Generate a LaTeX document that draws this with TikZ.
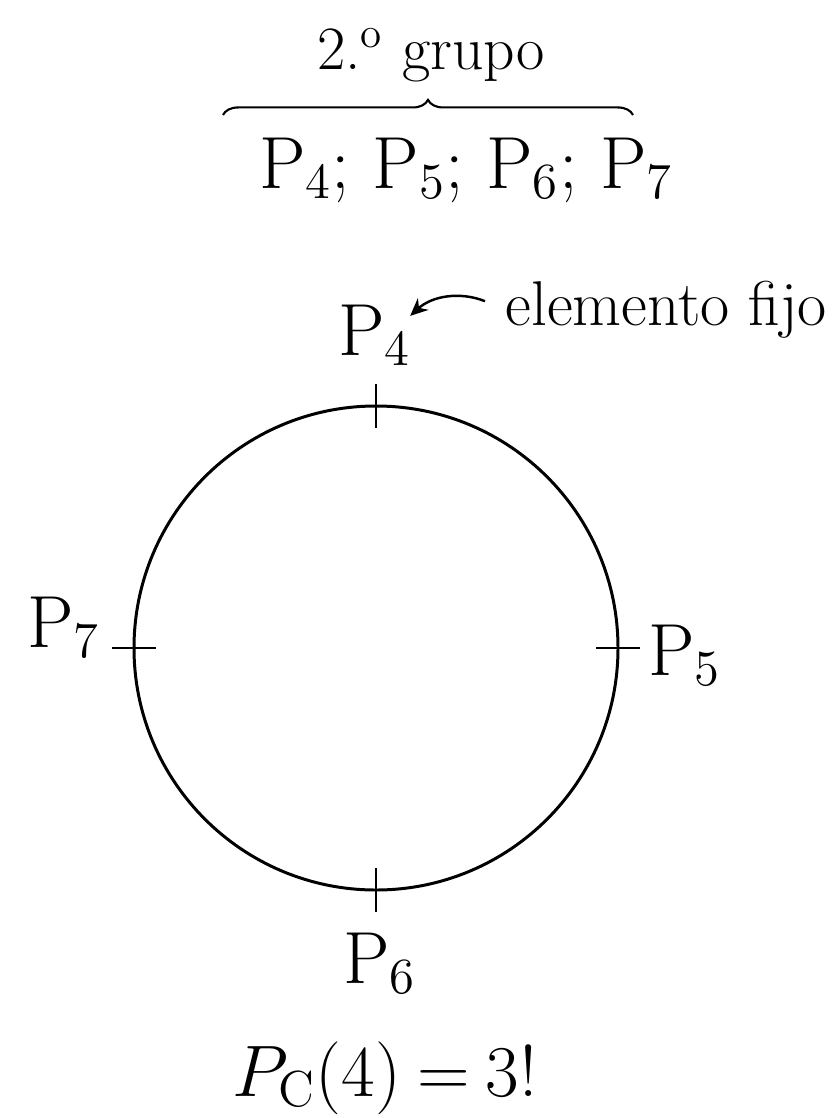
\documentclass[tikz,border=0pt]{standalone}
\usepackage{tikz}
\usetikzlibrary{arrows.meta,positioning,decorations.pathreplacing}

\begin{document}
\begin{tikzpicture}[
        x=0.01cm, y=-0.01cm,
        lbl/.style={inner sep=0pt, font=\fontsize{21}{25}\selectfont},
        note/.style={inner sep=0pt, font=\fontsize{17.5}{21}\selectfont},
        tick/.style={line width=0.6pt},
        arrow/.style={-{Stealth[length=5pt,width=4.5pt]}, line width=0.7pt}
    ]
        \useasboundingbox (0,0) rectangle (835,1118);

        % group header
        \node[note, anchor=base] (grupo) at (431,70) {2.\textsuperscript{o} grupo};
        \node[lbl, anchor=base] (lista) at (466,188) {P$_4$; P$_5$; P$_6$; P$_7$};
        \coordinate (bl) at (223,115);
        \coordinate (br) at (633,115);
        \draw[decorate, decoration={brace, amplitude=4.3pt}, line width=0.6pt] (bl) -- (br);

        % circle with fixed points
        \coordinate (c) at (376,648);
        \draw[line width=0.85pt] (c) circle[radius=242];
        \path (c) +(0,-242) coordinate (n) +(242,0) coordinate (e)
                  +(0,242) coordinate (s) +(-242,0) coordinate (w);
        \foreach \p in {n,s}
            \draw[tick] (\p) +(0,-22) -- +(0,22);
        \foreach \p in {e,w}
            \draw[tick] (\p) +(-22,0) -- +(22,0);

        \node[lbl, anchor=base] (p4) at (375,355) {P$_4$};
        \node[lbl, anchor=base] (p5) at (685,675) {P$_5$};
        \node[lbl, anchor=base] (p6) at (380,983) {P$_6$};
        \node[lbl, anchor=base] (p7) at (64,647) {P$_7$};

        \node[note, anchor=base west, font=\fontsize{18}{21}\selectfont] (elem) at (505,325) {elemento fijo};
        \draw[arrow] ([shift={(-20,-8)}]elem.west) .. controls +(-25,-10) and +(22,-20) .. ([shift={(-2,12)}]p4.north east);

        \node[lbl, anchor=base] (formula) at (385,1096) {$P_{\mathrm{C}}(4)\mskip-1mu=\mskip-1mu3!$};
\end{tikzpicture}
\end{document}
